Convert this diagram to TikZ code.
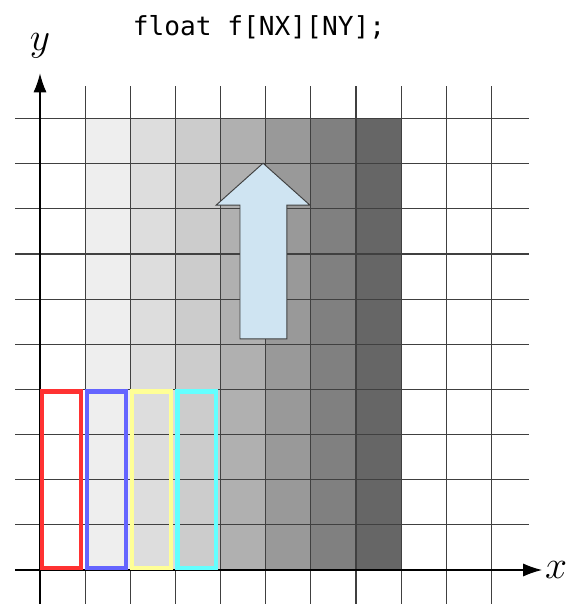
\documentclass[tikz,border=0pt]{standalone}
\usepackage{fontspec}
\setmonofont{DejaVu Sans Mono}
\usetikzlibrary{arrows.meta}
\definecolor{shA}{RGB}{238,238,238}
\definecolor{shB}{RGB}{221,221,221}
\definecolor{shC}{RGB}{204,204,204}
\definecolor{shD}{RGB}{176,176,176}
\definecolor{shE}{RGB}{153,153,153}
\definecolor{shF}{RGB}{128,128,128}
\definecolor{shG}{RGB}{102,102,102}
\definecolor{boxred}{RGB}{255,50,50}
\definecolor{boxblue}{RGB}{100,100,255}
\definecolor{boxyellow}{RGB}{255,255,150}
\definecolor{boxcyan}{RGB}{100,255,255}
\definecolor{arrowfill}{RGB}{207,228,242}

\begin{document}
\begin{tikzpicture}[
  gridline/.style={draw=black!75, line width=0.75pt},
  axis/.style={-{Latex[length=4.2mm,width=2.9mm]}, line width=0.75pt},
  colbox/.style={line width=2.6pt},
  bigarrow/.style={draw=black!75, fill=arrowfill, line width=0.6pt, line join=miter}]
\useasboundingbox (-0.886,-0.753) rectangle (11.672,12.625);
% shaded columns
\foreach \i/\c in {1/shA,2/shB,3/shC,4/shD,5/shE,6/shF,7/shG}
  \fill[\c] (\i,0) rectangle ++(1,10);
% grid
\foreach \i in {1,...,10}
  \draw[gridline] (\i,-0.753) -- (\i,10.72);
\foreach \j in {1,...,10}
  \draw[gridline] (-0.55,\j) -- (10.83,\j);
% axes
\coordinate (xstart) at (-0.55,0);
\coordinate (xend) at (11.12,0);
\coordinate (ystart) at (0,-0.753);
\coordinate (yend) at (0,11.0);
\draw[axis] (xstart) -- (xend);
\draw[axis] (ystart) -- (yend);
\node[font=\fontsize{26}{28}\selectfont] (xlab) at (11.43,0) {$x$};
\node[font=\fontsize{26}{28}\selectfont] (ylab) at (0,11.62) {$y$};
% title
\node[font=\fontsize{16.5}{18}\selectfont\ttfamily] (title) at (4.85,12.03) {float f[NX][NY];};
% colored boxes
\foreach \i/\c in {0/boxred,1/boxblue,2/boxyellow,3/boxcyan}
  \draw[colbox,\c] (\i+0.045,0.045) rectangle (\i+0.905,3.955);
% arrow
\draw[bigarrow] (4.43,5.12) -- (4.43,8.08) -- (3.9,8.08) -- (4.94,9.01)
  -- (5.98,8.08) -- (5.47,8.08) -- (5.47,5.12) -- cycle;
\end{tikzpicture}
\end{document}
